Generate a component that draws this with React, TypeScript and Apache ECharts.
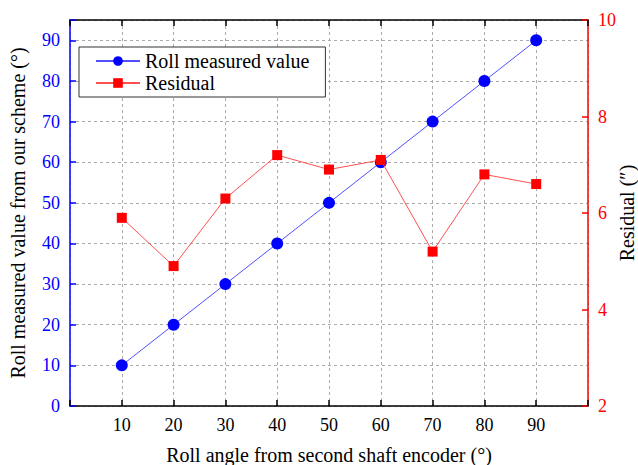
import React, { useEffect, useRef } from "react";
import * as echarts from "echarts";

const angles = [10, 20, 30, 40, 50, 60, 70, 80, 90];
const rollMeasured = [10, 20, 30, 40, 50, 60, 70, 80, 90];
const residual = [5.9, 4.9, 6.3, 7.2, 6.9, 7.1, 5.2, 6.8, 6.6];

const FONT = "Liberation Serif";

export default function App() {
  const ref = useRef<HTMLDivElement>(null);
  useEffect(() => {
    if (!ref.current) return;
    const chart = echarts.init(ref.current, undefined, { renderer: "svg" });
    const dash = { type: [3, 3], color: "#aaaaaa", width: 1 };
    chart.setOption({
      animation: false,
      backgroundColor: "#ffffff",
      textStyle: { fontFamily: FONT },
      grid: {
        left: 70,
        right: 50,
        top: 20,
        bottom: 59,
        containLabel: false,
        outerBoundsMode: "none",
      },
      legend: {
        orient: "vertical",
        left: 79,
        top: 47,
        padding: [4, 16, 4, 16],
        itemGap: 2,
        itemWidth: 44,
        itemHeight: 12,
        borderColor: "#333333",
        borderWidth: 1,
        backgroundColor: "#ffffff",
        textStyle: { fontFamily: FONT, fontSize: 20, color: "#000000" },
        data: ["Roll measured value", "Residual"],
      },
      xAxis: [
        {
          type: "value",
          min: 0,
          max: 100,
          interval: 10,
          position: "bottom",
          name: "Roll angle from second shaft encoder (°)",
          nameLocation: "middle",
          nameGap: 39,
          nameMoveOverlap: false,
          nameTextStyle: { fontFamily: FONT, fontSize: 20, color: "#000000" },
          axisLine: { show: true, onZero: false, lineStyle: { color: "#000000", width: 1.5 } },
          axisTick: { show: true, inside: true, length: 6, lineStyle: { color: "#000000", width: 1.5 } },
          axisLabel: {
            fontFamily: FONT,
            fontSize: 18,
            color: "#000000",
            margin: 10,
            formatter: (v: number) => (v === 0 || v === 100 ? "" : String(v)),
          },
          splitLine: { show: true, lineStyle: dash },
        },
        {
          type: "value",
          min: 0,
          max: 100,
          interval: 10,
          position: "top",
          axisLine: { show: true, onZero: false, lineStyle: { color: "#000000", width: 1.5 } },
          axisTick: { show: true, inside: true, length: 6, lineStyle: { color: "#000000", width: 1.5 } },
          axisLabel: { show: false },
          splitLine: { show: false },
        },
      ],
      yAxis: [
        {
          type: "value",
          min: 0,
          max: 95,
          interval: 10,
          position: "left",
          name: "Roll measured value from our scheme (°)",
          nameLocation: "middle",
          nameRotate: 90,
          nameGap: 42,
          nameMoveOverlap: false,
          nameTextStyle: { fontFamily: FONT, fontSize: 20, color: "#000000" },
          axisLine: { show: true, onZero: false, lineStyle: { color: "#0000ff", width: 1.5 } },
          axisTick: { show: true, inside: true, length: 6, lineStyle: { color: "#0000ff", width: 1.5 } },
          axisLabel: {
            fontFamily: FONT,
            fontSize: 18,
            color: "#0000ff",
            margin: 10,
            formatter: (v: number) => (v > 90 ? "" : String(v)),
          },
          splitLine: { show: true, lineStyle: dash },
        },
        {
          type: "value",
          min: 2,
          max: 10,
          interval: 2,
          position: "right",
          name: "Residual (″)",
          nameLocation: "middle",
          nameRotate: 90,
          nameGap: 29,
          nameMoveOverlap: false,
          nameTextStyle: { fontFamily: FONT, fontSize: 20, color: "#000000" },
          axisLine: { show: true, onZero: false, lineStyle: { color: "#ff0000", width: 1.5 } },
          axisTick: { show: true, inside: true, length: 6, lineStyle: { color: "#ff0000", width: 1.5 } },
          axisLabel: { fontFamily: FONT, fontSize: 18, color: "#ff0000", margin: 10 },
          splitLine: { show: false },
        },
      ],
      series: [
        {
          name: "Roll measured value",
          type: "line",
          xAxisIndex: 0,
          yAxisIndex: 0,
          data: angles.map((a, i) => [a, rollMeasured[i]]),
          symbol: "circle",
          symbolSize: 12,
          itemStyle: { color: "#0000ff" },
          lineStyle: { color: "#5050ff", width: 1 },
          z: 3,
        },
        {
          name: "Residual",
          type: "line",
          xAxisIndex: 0,
          yAxisIndex: 1,
          data: angles.map((a, i) => [a, residual[i]]),
          symbol: "rect",
          symbolSize: 10,
          itemStyle: { color: "#ff0000" },
          lineStyle: { color: "#ff5050", width: 1 },
          z: 4,
        },
      ],
    });
    return () => chart.dispose();
  }, []);
  return (
    <div
      ref={ref}
      style={{ position: "absolute", left: 0, top: 0, width: 638, height: 465 }}
    />
  );
}
